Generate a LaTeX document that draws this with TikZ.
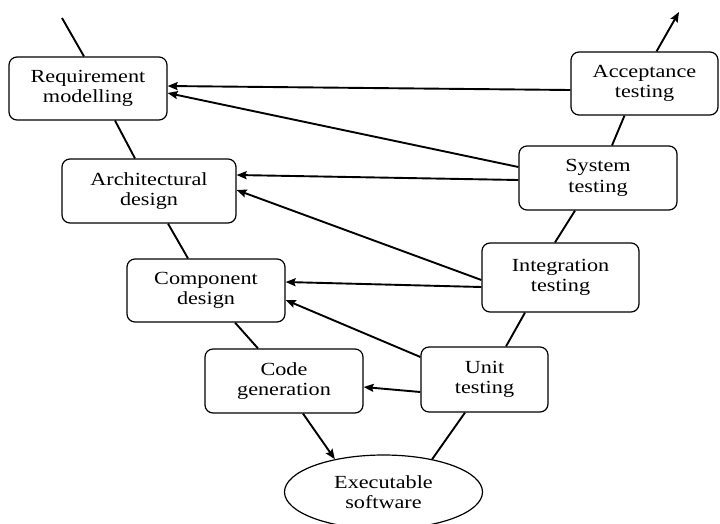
\documentclass[tikz,border=0pt]{standalone}
\usepackage{fontspec}
\setmainfont{Liberation Serif}[FakeStretch=1.2]
\usetikzlibrary{shapes.geometric,arrows.meta,calc}

\tikzset{
  x=1pt, y=-1pt,
  stage/.style={draw, line width=1.2pt, rounded corners=8pt, align=center,
    inner sep=0pt, font=\fontsize{18.5}{20.5}\selectfont},
  product/.style={draw, ellipse, line width=1.2pt, align=center, inner sep=0pt,
    font=\fontsize{18.5}{20.5}\selectfont},
  vee/.style={line width=1.9pt},
  flow/.style={line width=1.9pt, -{Stealth[length=10pt,width=8pt,inset=1.5pt]}},
}

\begin{document}
\begin{tikzpicture}
\useasboundingbox (0,0) rectangle (720,523);

% development stages (left arm)
\node[stage, minimum width=158pt, minimum height=63pt] (req)  at (88,88.5)   {Requirement\\modelling};
\node[stage, minimum width=174pt, minimum height=64pt] (arch) at (149,191)   {Architectural\\design};
\node[stage, minimum width=158pt, minimum height=63pt] (comp) at (206,290.5) {Component\\design};
\node[stage, minimum width=158pt, minimum height=64pt] (code) at (284,381)   {Code\\generation};

% testing stages (right arm)
\node[stage, minimum width=147pt, minimum height=63pt] (acc)  at (644.5,83.5) {Acceptance\\testing};
\node[stage, minimum width=158pt, minimum height=64pt] (sys)  at (598,178)    {System\\testing};
\node[stage, minimum width=157pt, minimum height=69pt] (intg) at (560.5,277.5) {Integration\\testing};
\node[stage, minimum width=127pt, minimum height=65pt] (unit) at (484.5,379.5) {Unit\\testing};

% product at the bottom of the V
\node[product, minimum width=198pt, minimum height=74pt] (exe) at (383.5,492) {Executable\\software};

\coordinate (topin)  at (62,18);
\coordinate (topout) at (679,12);

% left arm of the V
\draw[vee] (topin) -- ($(req.north)+(-4,0)$);
\draw[vee] ($(req.south)+(27,0)$) -- ($(arch.north)+(-14,0)$);
\draw[vee] ($(arch.south)+(19,0)$) -- ($(comp.north)+(-18,0)$);
\draw[vee] ($(comp.south)+(29,0)$) -- ($(code.north)+(-26,0)$);
\draw[flow] ($(code.south)+(19,0)$) -- (exe.146);

% right arm of the V
\draw[vee] (exe.34.5) -- ($(unit.south)+(-19.5,0)$);
\draw[vee] ($(unit.north)+(21.5,0)$) -- ($(intg.south)+(-35.5,0)$);
\draw[vee] ($(intg.north)+(-5.5,0)$) -- ($(sys.south)+(-23,0)$);
\draw[vee] ($(sys.north)+(14,0)$) -- ($(acc.south)+(-20,0)$);
\draw[flow] ($(acc.north)+(12,0)$) -- (topout);

% feedback from each test level
\draw[flow] ($(acc.west)+(0,6.5)$)  -- ($(req.east)+(0,-2.5)$);
\draw[flow] ($(sys.west)+(0,-11)$)  -- ($(req.east)+(0,4.5)$);
\draw[flow] ($(sys.west)+(0,2)$)    -- ($(arch.east)+(0,-16)$);
\draw[flow] ($(intg.west)+(0,2.5)$) -- ($(arch.east)+(0,-1)$);
\draw[flow] ($(intg.west)+(0,9.5)$) -- ($(comp.east)+(0,-8.5)$);
\draw[flow] ($(unit.west)+(0,-22.5)$) -- ($(comp.east)+(0,9.5)$);
\draw[flow] ($(unit.west)+(0,12.5)$) -- ($(code.east)+(0,6)$);
\end{tikzpicture}
\end{document}
